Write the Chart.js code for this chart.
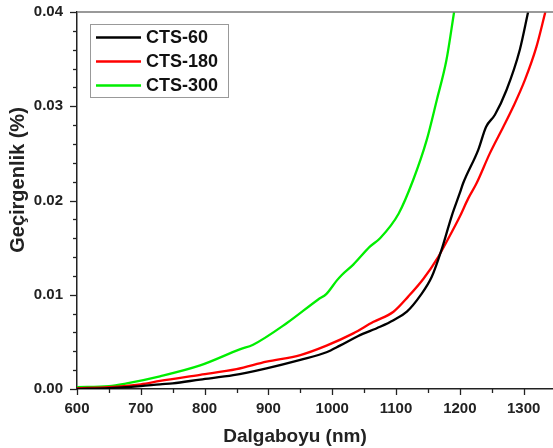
<!DOCTYPE html>
<html>
<head>
<meta charset="utf-8">
<script src="https://cdn.jsdelivr.net/npm/chart.js@4.4.1/dist/chart.umd.min.js"></script>
<style>
  html, body { margin: 0; padding: 0; background: #fff; }
  #wrap { width: 553px; height: 448px; }
</style>
</head>
<body>
<div id="wrap"><canvas id="myChart" width="553" height="448"></canvas></div>
<script>
// --- dados ---
var seriesNames = ['CTS-60', 'CTS-180', 'CTS-300'];
var seriesColors = ['#000000', '#ff0000', '#00ee00'];

var cts60X = [600, 650, 700, 730, 750, 793, 845, 897, 950, 991, 1012, 1040, 1075, 1096, 1117, 1138, 1156, 1171, 1187, 1200, 1205, 1229, 1241, 1255, 1273, 1294, 1307];
var cts60Y = [0.0000, 0.0001, 0.0003, 0.0005, 0.0006, 0.0010, 0.00146, 0.0022, 0.0031, 0.0039, 0.0046, 0.0056, 0.0066, 0.0073, 0.0082, 0.0099, 0.0119, 0.0147, 0.0183, 0.0208, 0.0218, 0.0254, 0.0278, 0.0291, 0.0317, 0.0360, 0.0400];

var cts180X = [600, 650, 700, 730, 793, 850, 897, 950, 991, 1033, 1064, 1096, 1119, 1143, 1166, 1179, 1200, 1213, 1226, 1247, 1268, 1284, 1302, 1320, 1334];
var cts180Y = [0.0001, 0.0002, 0.0005, 0.00085, 0.0015, 0.0021, 0.0029, 0.0036, 0.0046, 0.0059, 0.0071, 0.0082, 0.0098, 0.0117, 0.0140, 0.0156, 0.0183, 0.0202, 0.0218, 0.0250, 0.0278, 0.0300, 0.0328, 0.0363, 0.0400];

var cts300X = [600, 650, 678, 730, 793, 855, 876, 929, 978, 991, 1007, 1015, 1033, 1059, 1075, 1104, 1127, 1148, 1164, 1179, 1191];
var cts300Y = [0.0002, 0.0003, 0.0006, 0.00135, 0.0025, 0.0042, 0.0047, 0.0070, 0.0095, 0.0101, 0.0115, 0.0121, 0.0132, 0.0151, 0.0160, 0.0186, 0.0222, 0.0264, 0.0307, 0.0349, 0.0400];

var xTicks = [600, 700, 800, 900, 1000, 1100, 1200, 1300];
var yTicks = [0, 0.01, 0.02, 0.03, 0.04];

var xTitle = 'Dalgaboyu (nm)';
var yTitle = 'Geçirgenlik (%)';

var FONT = '"Liberation Sans", Arial, sans-serif';

function pts(xs, ys) {
  return xs.map(function (x, i) { return { x: x, y: ys[i] }; });
}

function noPad(s) {
  s.paddingTop = 0; s.paddingBottom = 0; s.paddingLeft = 0; s.paddingRight = 0;
}

var allX = [cts60X, cts180X, cts300X];
var allY = [cts60Y, cts180Y, cts300Y];
var datasets = seriesNames.map(function (name, i) {
  return {
    label: name,
    data: pts(allX[i], allY[i]),
    borderColor: seriesColors[i],
    backgroundColor: seriesColors[i],
    borderWidth: 2.3,
    pointRadius: 0,
    cubicInterpolationMode: 'monotone',
    fill: false
  };
});

// ticks menores, borda de cima, títulos dos eixos e legenda
var extras = {
  id: 'extras',
  afterDraw: function (chart) {
    var ctx = chart.ctx, a = chart.chartArea;
    var xs = chart.scales.x, ys = chart.scales.y;
    ctx.save();
    ctx.strokeStyle = '#222';
    ctx.lineWidth = 1.3;
    // x ticks (a cada 50)
    for (var v = 600; v <= xs.max; v += 50) {
      var px = Math.round(xs.getPixelForValue(v)) + 0.5;
      var len = (v % 100 === 0) ? 6 : 4;
      ctx.beginPath(); ctx.moveTo(px, a.bottom); ctx.lineTo(px, a.bottom + len); ctx.stroke();
    }
    // y ticks (a cada 0.002)
    for (var k = 0; k <= 20; k++) {
      var py = Math.round(ys.getPixelForValue(k * 0.002)) + 0.5;
      var l2 = (k % 5 === 0) ? 7 : 4;
      ctx.beginPath(); ctx.moveTo(a.left, py); ctx.lineTo(a.left - l2, py); ctx.stroke();
    }
    // borda superior
    ctx.strokeStyle = '#777';
    ctx.lineWidth = 1.5;
    ctx.beginPath(); ctx.moveTo(a.left, a.top); ctx.lineTo(a.right, a.top); ctx.stroke();

    // títulos
    ctx.fillStyle = '#222';
    ctx.textAlign = 'center';
    ctx.textBaseline = 'middle';
    ctx.font = 'bold 19px ' + FONT;
    ctx.fillText(xTitle, 295, 437);
    ctx.save();
    ctx.translate(18, 180);
    ctx.rotate(-Math.PI / 2);
    ctx.font = 'bold 20px ' + FONT;
    ctx.fillText(yTitle, 0, 0);
    ctx.restore();

    // legenda
    ctx.fillStyle = '#fff';
    ctx.fillRect(90.5, 24.5, 138, 73);
    ctx.strokeStyle = '#999';
    ctx.lineWidth = 1;
    ctx.strokeRect(90.5, 24.5, 138, 73);
    ctx.font = 'bold 18px ' + FONT;
    ctx.textAlign = 'left';
    ctx.textBaseline = 'middle';
    seriesNames.forEach(function (name, i) {
      var y = 37.5 + i * 24;
      ctx.strokeStyle = seriesColors[i];
      ctx.lineWidth = 2.3;
      ctx.beginPath(); ctx.moveTo(96, y); ctx.lineTo(141, y); ctx.stroke();
      ctx.fillStyle = '#111';
      ctx.fillText(name, 146, y + 1);
    });
    ctx.restore();
  }
};

var ctx = document.getElementById('myChart').getContext('2d');
new Chart(ctx, {
  type: 'line',
  data: { datasets: datasets },
  options: {
    responsive: false,
    animation: false,
    layout: { padding: { top: 12, right: 0, left: 0, bottom: 0 } },
    plugins: { legend: { display: false }, tooltip: { enabled: false } },
    scales: {
      x: {
        type: 'linear',
        min: 600,
        max: 1346,
        afterFit: function (s) { s.height = 59; noPad(s); },
        afterBuildTicks: function (s) { s.ticks = xTicks.map(function (v) { return { value: v }; }); },
        grid: { display: false, drawTicks: false },
        border: { display: true, color: '#222', width: 1.5 },
        ticks: {
          padding: 11,
          color: '#222',
          maxRotation: 0,
          font: { family: FONT, size: 15, weight: 'bold' },
          callback: function (v) { return v; }
        }
      },
      y: {
        min: 0,
        max: 0.04,
        afterFit: function (s) { s.width = 77; noPad(s); },
        afterBuildTicks: function (s) { s.ticks = yTicks.map(function (v) { return { value: v }; }); },
        grid: { display: false, drawTicks: false },
        border: { display: true, color: '#222', width: 1.5 },
        ticks: {
          padding: 14,
          color: '#222',
          font: { family: FONT, size: 15, weight: 'bold' },
          callback: function (v) { return v.toFixed(2); }
        }
      }
    }
  },
  plugins: [extras]
});
</script>
</body>
</html>
